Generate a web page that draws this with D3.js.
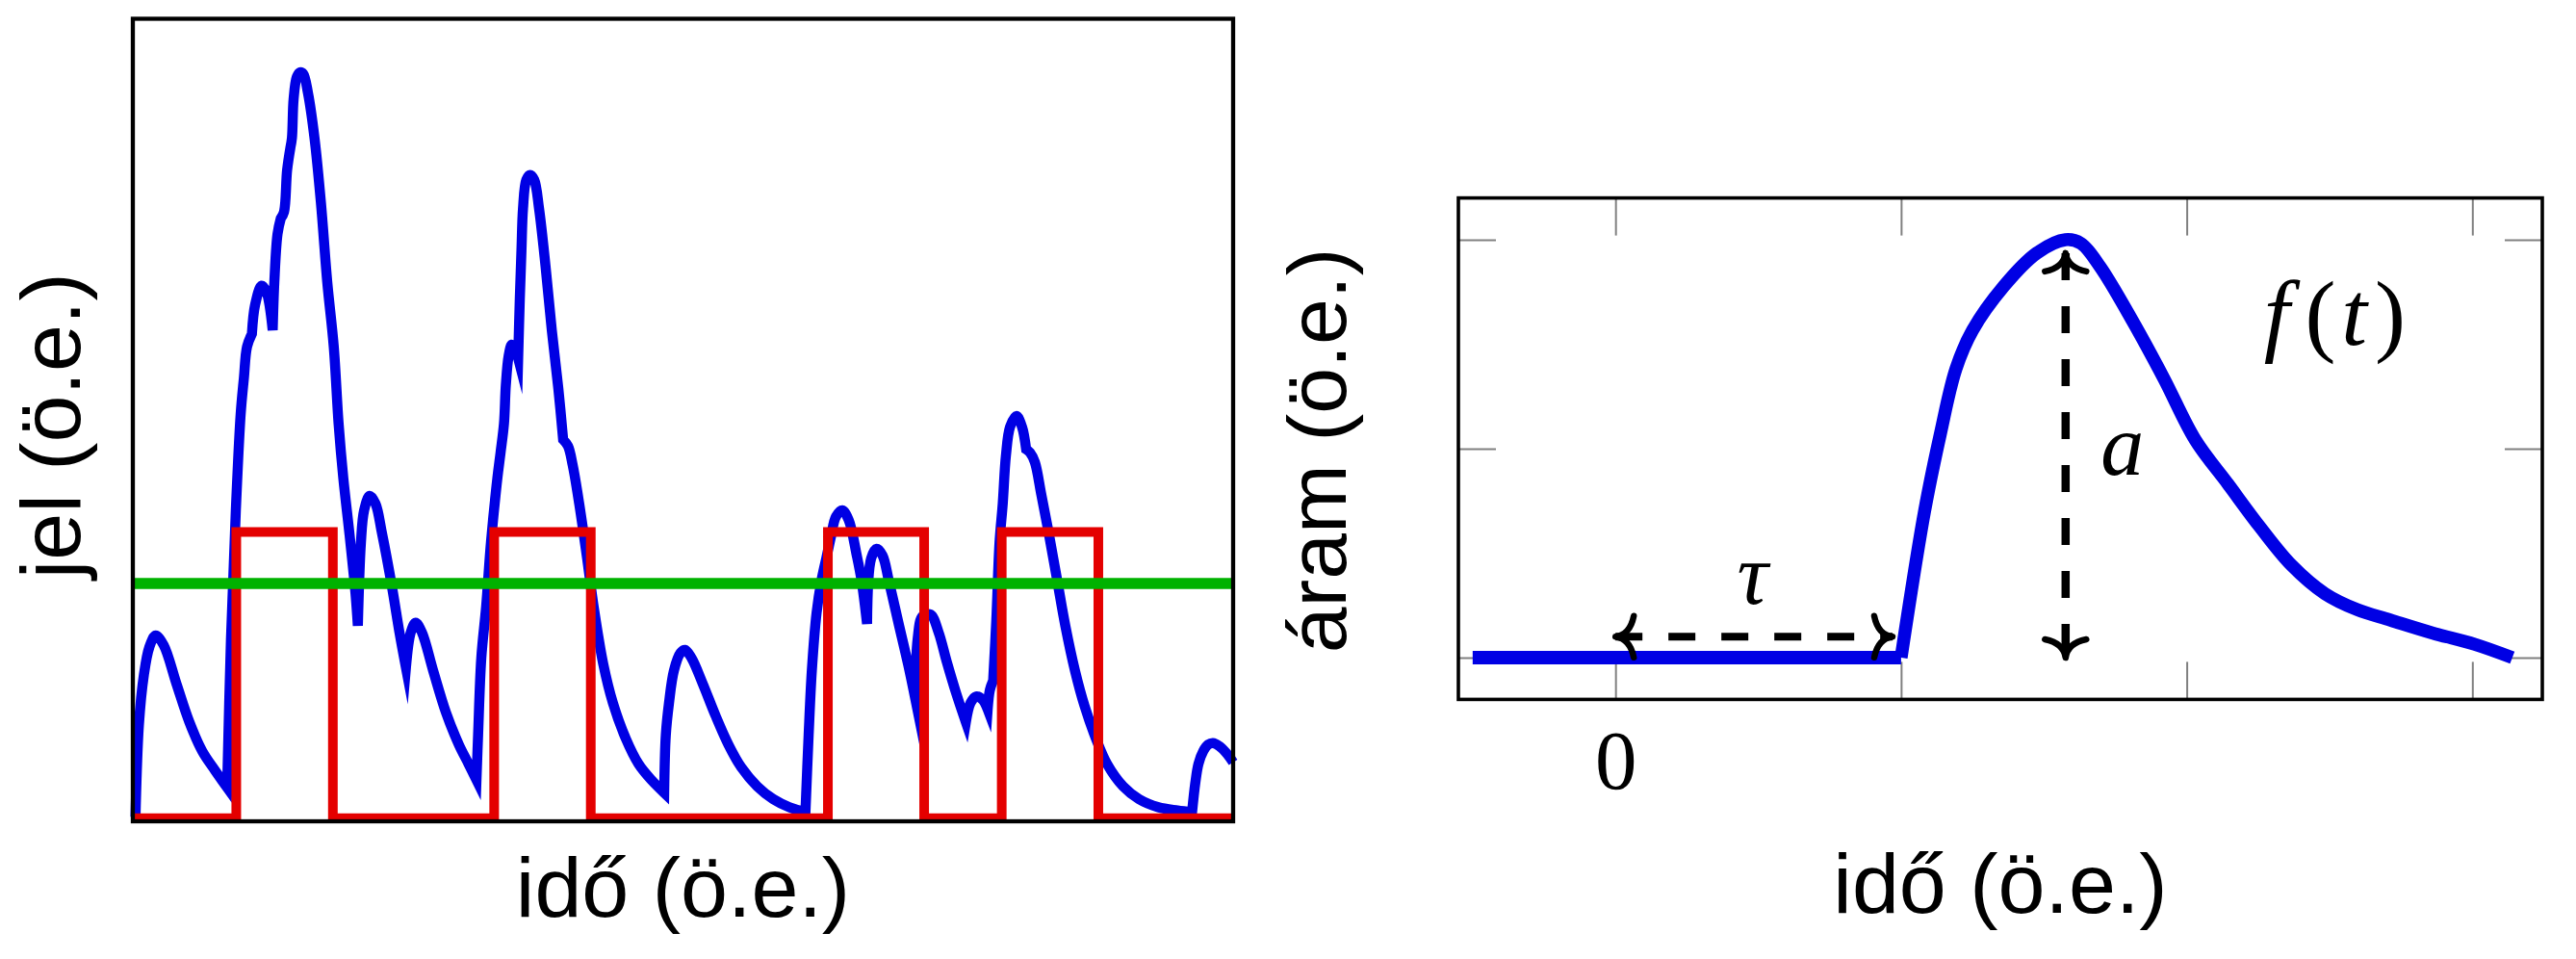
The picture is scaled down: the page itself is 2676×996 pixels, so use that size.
<!DOCTYPE html>
<html>
<head>
<meta charset="utf-8">
<script src="https://cdn.jsdelivr.net/npm/d3@7"></script>
<style>
  html, body { margin: 0; padding: 0; background: #fff; }
  svg { display: block; }
</style>
</head>
<body>
<script>
// ---------------- DATA ----------------
// Left panel: detector signal (blue), arbitrary units, time 0..100, value 0..100
const sigT = [0.24,0.55,1.00,1.50,2.07,2.80,3.96,5.14,6.30,7.46,
  8.57,8.92,9.36,9.80,10.09,10.38,10.82,11.11,11.70,12.13,
  12.71,12.86,13.15,13.45,13.74,14.02,14.32,14.46,14.61,14.90,
  15.20,15.49,15.92,16.51,17.09,17.67,18.26,18.70,19.13,19.71,
  20.24,20.45,20.73,21.02,21.52,22.05,22.63,23.51,24.23,24.82,
  25.26,25.70,26.27,27.30,28.46,29.63,30.51,31.23,31.38,31.67,
  32.11,32.55,33.13,33.42,33.73,33.90,34.15,34.44,34.73,35.02,
  35.17,35.32,35.46,35.76,36.11,36.48,36.92,37.51,38.08,38.67,
  39.11,39.55,39.98,40.57,41.29,41.88,42.76,43.63,44.79,45.96,
  47.13,48.29,48.44,48.73,49.17,49.76,50.19,50.77,51.79,52.96,
  54.13,55.29,56.75,58.21,59.67,61.13,61.42,61.71,62.14,62.58,
  63.02,63.46,63.90,64.48,65.06,65.79,66.23,66.73,67.10,67.60,
  68.13,68.71,69.58,70.46,71.13,71.33,71.77,72.50,73.23,73.96,
  74.83,75.71,76.14,76.64,77.23,77.69,77.89,78.19,78.48,78.77,
  79.06,79.35,79.73,80.31,80.81,81.19,81.54,81.98,82.56,83.29,
  84.02,84.75,85.63,86.50,87.52,88.54,90.00,91.45,93.20,94.95,
  96.27,96.56,96.85,97.29,97.73,98.16,98.75,99.48,100];
const sigV = [0.56,12.0,18.2,21.7,23.15,21.96,17.16,12.36,8.76,6.36,
  4.20,22.8,38.75,50.75,55.19,59.15,60.74,64.34,66.74,65.99,
  61.19,67.19,73.19,75.14,75.94,81.14,83.95,85.15,89.98,92.74,
  93.34,93.14,90.74,85.15,77.14,67.19,59.15,49.55,42.75,35.55,
  28.35,24.36,34.76,38.75,40.55,39.59,35.99,29.55,23.55,19.16,
  23.55,24.75,23.55,18.75,13.56,9.56,7.16,5.16,10.80,20.36,
  26.75,34.79,42.75,45.95,49.55,54.35,57.95,59.39,58.91,57.71,
  65.15,71.15,76.34,79.94,80.54,79.94,76.34,69.14,61.15,53.95,
  47.55,46.75,44.36,39.56,32.75,26.75,19.56,14.76,10.35,7.16,
  5.16,3.56,10.76,14.76,18.75,20.96,21.36,20.36,17.16,13.16,
  9.56,6.75,4.36,2.76,1.76,1.16,10.76,18.75,25.95,29.96,
  32.75,35.55,37.95,38.75,37.55,33.15,29.99,24.60,32.75,33.95,
  33.15,29.96,24.75,19.56,15.15,22.76,25.55,25.76,23.55,19.95,
  15.96,12.36,14.76,15.56,15.15,13.95,16.35,17.55,25.16,34.76,
  39.56,45.56,49.16,50.51,49.16,46.35,45.95,44.75,40.76,35.55,
  29.96,24.36,18.75,14.36,10.35,7.16,4.36,2.76,1.76,1.36,
  1.16,4.76,7.16,8.76,9.56,9.75,9.36,8.36,7.35];
// times where the signal has a sharp corner (new pulse arriving)
const sigCornerT = [8.57,10.82,12.71,13.45,14.32,20.45,24.82,31.23,35.02,39.11,48.29,61.13,66.73,71.13,75.71,77.69,78.19,81.19,96.27];
// Left panel: gate pulses (red) and threshold (green)
const pulseOn  = [9.40, 32.84, 63.17, 78.97];
const pulseOff = [18.18, 41.62, 71.92, 87.75];
const pulseLevels = [0.4, 36.05];   // low, high
const thresholdLevel = [29.63];

// Right panel: current pulse f(t)
const currT = [-0.5, 1.0, 1.081, 1.138, 1.192, 1.25, 1.36, 1.475, 1.575, 1.63, 1.697, 1.81, 1.92, 2.03, 2.145, 2.256, 2.367, 2.484, 2.596, 2.713, 2.861, 3.008, 3.14];
const currI = [0, 0, 0.346, 0.537, 0.691, 0.783, 0.889, 0.968, 1.0, 0.991, 0.935, 0.806, 0.668, 0.521, 0.415, 0.313, 0.221, 0.153, 0.115, 0.090, 0.059, 0.032, 0.0];
const xTickValues = [0, 1, 2, 3];
const xTickLabels = ["0", "", "", ""];
const yTickValues = [0, 0.5, 1];
// annotation anchors (data units of the right panel)
const tauArrow = [0, 0.97, 0.05];      // x0, x1, y
const ampArrow = [1.576, 0, 0.968];    // x, y0, y1
const mathLabels = [
  {t: "τ", x: 0.48, y: 0.129},
  {t: "a", x: 1.775, y: 0.438}
];
const fLabel = {x: 2.27, y: 0.749};   // left edge, baseline

// ---------------- DRAW ----------------
const W = 2676, H = 996;
const svg = d3.select("body").append("svg").attr("width", W).attr("height", H);
const SANS = "'Liberation Sans', Arial, sans-serif";
const SERIF = "'Liberation Serif', 'DejaVu Serif', serif";
const BLUE = "rgb(0,0,228)", RED = "rgb(228,0,0)", GREEN = "rgb(0,178,0)";

// ----- Left panel -----
const xL = d3.scaleLinear().domain([0, 100]).range([138, 1281]);
const yL = d3.scaleLinear().domain([0, 100]).range([853, 19.5]);
const gL = svg.append("g");

const lineL = d3.line().x(d => xL(d[0])).y(d => yL(d[1])).curve(d3.curveLinear);
const smoothL = d3.line().x(d => xL(d[0])).y(d => yL(d[1])).curve(d3.curveCatmullRom.alpha(0.5));

// smooth pieces between corners, joined into one continuous path
const sigPts = sigT.map((t, i) => [t, sigV[i]]);
const runs = [];
let cur = [sigPts[0]];
for (let i = 1; i < sigPts.length; i++) {
  cur.push(sigPts[i]);
  if (sigCornerT.includes(sigPts[i][0])) { runs.push(cur); cur = [sigPts[i]]; }
}
if (cur.length > 1) runs.push(cur);
const sigPath = runs.map((r, k) => {
  const s = smoothL(r);
  return k === 0 ? s : s.replace(/^M[^A-Za-z]*/, "");
}).join("");

gL.append("path")
  .attr("d", sigPath).attr("fill", "none").attr("stroke", BLUE)
  .attr("stroke-width", 10.5).attr("stroke-linejoin", "miter").attr("stroke-miterlimit", 10);

const redPts = [[0, pulseLevels[0]]];
pulseOn.forEach((on, i) => {
  redPts.push([on, pulseLevels[0]], [on, pulseLevels[1]], [pulseOff[i], pulseLevels[1]], [pulseOff[i], pulseLevels[0]]);
});
redPts.push([100, pulseLevels[0]]);
gL.append("path").datum(redPts).attr("d", lineL).attr("fill", "none").attr("stroke", RED)
  .attr("stroke-width", 10).attr("stroke-linejoin", "miter");

gL.append("path").datum([[0, thresholdLevel[0]], [100, thresholdLevel[0]]]).attr("d", lineL)
  .attr("fill", "none").attr("stroke", GREEN).attr("stroke-width", 11.5);

gL.append("rect").attr("x", xL(0)).attr("y", yL(100))
  .attr("width", xL(100) - xL(0)).attr("height", yL(0) - yL(100))
  .attr("fill", "none").attr("stroke", "#000").attr("stroke-width", 4.3);

gL.append("text").attr("x", (xL(0) + xL(100)) / 2).attr("y", 952)
  .attr("text-anchor", "middle").attr("font-family", SANS).attr("font-size", 88)
  .text("idő (ö.e.)");
gL.append("text").attr("transform", `translate(83,${(yL(0) + yL(100)) / 2 + 6}) rotate(-90)`)
  .attr("text-anchor", "middle").attr("font-family", SANS).attr("font-size", 88)
  .text("jel (ö.e.)");

// ----- Right panel -----
const xR = d3.scaleLinear().domain([-0.55, 3.245]).range([1515, 2641]);
const yR = d3.scaleLinear().domain([-0.1, 1.1]).range([726.4, 205.6]);
const gR = svg.append("g");
const TICK = 39;

function styleAxis(g) {
  g.select(".domain").remove();
  g.selectAll(".tick line").attr("stroke", "#808080").attr("stroke-width", 2);
}
gR.append("g").attr("transform", `translate(0,${yR(-0.1)})`)
  .call(d3.axisBottom(xR).tickValues(xTickValues).tickSize(-TICK).tickFormat((d, i) => xTickLabels[i]))
  .call(styleAxis)
  .call(g => g.selectAll(".tick text").attr("y", 819 - yR(-0.1)).attr("dy", 0)
      .attr("font-family", SERIF).attr("font-size", 87).attr("fill", "#000"));
gR.append("g").attr("transform", `translate(0,${yR(1.1)})`)
  .call(d3.axisTop(xR).tickValues(xTickValues).tickSize(-TICK).tickFormat(""))
  .call(styleAxis);
gR.append("g").attr("transform", `translate(${xR(-0.55)},0)`)
  .call(d3.axisLeft(yR).tickValues(yTickValues).tickSize(-TICK).tickFormat(""))
  .call(styleAxis);
gR.append("g").attr("transform", `translate(${xR(3.245)},0)`)
  .call(d3.axisRight(yR).tickValues(yTickValues).tickSize(-TICK).tickFormat(""))
  .call(styleAxis);

const pts = currT.map((t, i) => [t, currI[i]]);
const flat = pts.filter(d => d[0] <= 1.0);
const rise = pts.filter(d => d[0] >= 1.0);
gR.append("path").datum(flat)
  .attr("d", d3.line().x(d => xR(d[0])).y(d => yR(d[1])))
  .attr("fill", "none").attr("stroke", BLUE).attr("stroke-width", 14);
gR.append("path").datum(rise)
  .attr("d", d3.line().x(d => xR(d[0])).y(d => yR(d[1])).curve(d3.curveCatmullRom.alpha(0.5)))
  .attr("fill", "none").attr("stroke", BLUE).attr("stroke-width", 13.5);

// dashed arrows
const DASH = "28 27";
gR.append("line").attr("x1", xR(tauArrow[0])).attr("x2", xR(tauArrow[1]))
  .attr("y1", yR(tauArrow[2])).attr("y2", yR(tauArrow[2]))
  .attr("stroke", "#000").attr("stroke-width", 8).attr("stroke-dasharray", DASH);
gR.append("line").attr("x1", xR(ampArrow[0])).attr("x2", xR(ampArrow[0]))
  .attr("y1", yR(ampArrow[2])).attr("y2", yR(ampArrow[1]))
  .attr("stroke", "#000").attr("stroke-width", 8.5).attr("stroke-dasharray", DASH);

// LaTeX-like "to" arrow heads; tip at origin pointing up (-y)
const headPath = "M-21.5,19 Q-2,15 0,0 Q2,15 21.5,19";
function head(x, y, angle) {
  gR.append("path").attr("d", headPath)
    .attr("transform", `translate(${x},${y}) rotate(${angle})`)
    .attr("fill", "none").attr("stroke", "#000").attr("stroke-width", 6.5)
    .attr("stroke-linecap", "round").attr("stroke-linejoin", "round");
}
head(xR(ampArrow[0]), yR(ampArrow[2]), 0);
head(xR(ampArrow[0]), yR(ampArrow[1]), 180);
head(xR(tauArrow[0]), yR(tauArrow[2]), -90);
head(xR(tauArrow[1]), yR(tauArrow[2]), 90);

// math labels
mathLabels.forEach(m => {
  gR.append("text").attr("x", xR(m.x)).attr("y", yR(m.y)).attr("text-anchor", "middle")
    .attr("font-family", SERIF).attr("font-style", "italic").attr("font-size", 90).text(m.t);
});
const ft = gR.append("text").attr("x", xR(fLabel.x)).attr("y", yR(fLabel.y)).attr("text-anchor", "start")
  .attr("font-family", SERIF).attr("font-size", 96);
ft.append("tspan").attr("font-style", "italic").text("f");
ft.append("tspan").attr("dx", 16).text("(");
ft.append("tspan").attr("font-style", "italic").attr("dx", 6).text("t");
ft.append("tspan").attr("dx", 8).text(")");

gR.append("rect").attr("x", xR(-0.55)).attr("y", yR(1.1))
  .attr("width", xR(3.245) - xR(-0.55)).attr("height", yR(-0.1) - yR(1.1))
  .attr("fill", "none").attr("stroke", "#000").attr("stroke-width", 3.6);

gR.append("text").attr("x", (xR(-0.55) + xR(3.245)) / 2).attr("y", 948)
  .attr("text-anchor", "middle").attr("font-family", SANS).attr("font-size", 88)
  .text("idő (ö.e.)");
gR.append("text").attr("transform", `translate(1398,${(yR(-0.1) + yR(1.1)) / 2 + 2}) rotate(-90)`)
  .attr("text-anchor", "middle").attr("font-family", SANS).attr("font-size", 86)
  .text("áram (ö.e.)");
</script>
</body>
</html>
